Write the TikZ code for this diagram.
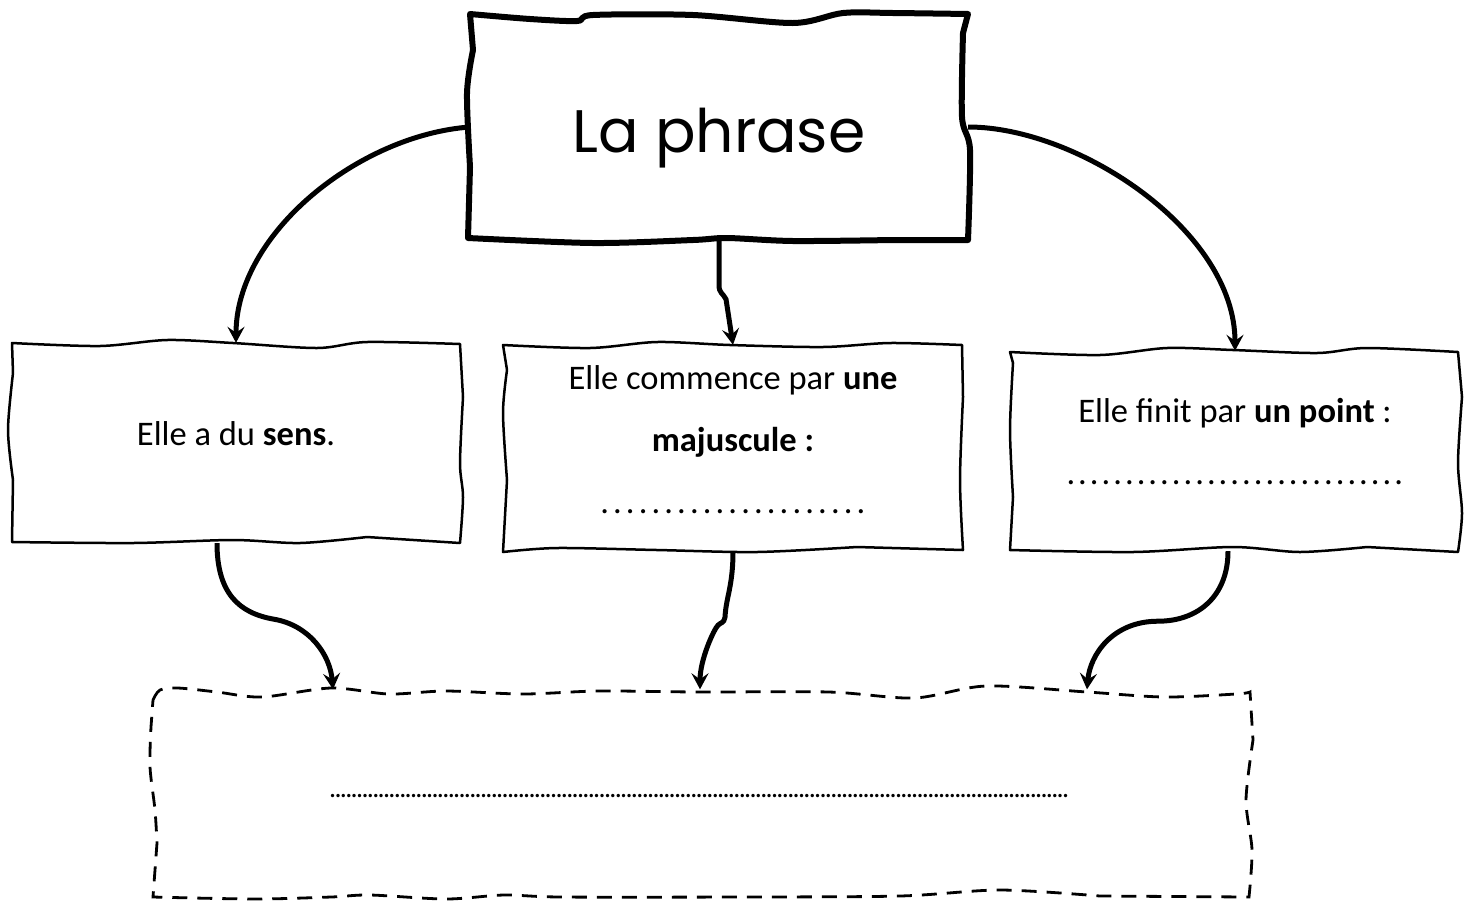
\documentclass[tikz,border=0pt]{standalone}
\usepackage{fontspec}
\setmainfont{Carlito}
\newfontfamily\titlefont{Poppins}
\usetikzlibrary{arrows.meta,positioning,calc}

\tikzset{
  boxnode/.style={rectangle, inner sep=0pt, font=\fontsize{34.5}{62}\selectfont},
  boxline/.style={line width=2.5pt, line join=round},
  titleline/.style={line width=6pt, line join=round},
  dashline/.style={line width=2.8pt, dash pattern=on 15pt off 10pt},
  fleche/.style={line width=5pt, -{Stealth[length=16pt,width=17pt,inset=6pt]}},
}
\newcommand{\pointille}[2]{\hbox to #1{\xleaders\hbox to #2{\hss.\hss}\hfill}}

\begin{document}
\begin{tikzpicture}[x=1pt,y=-1pt]
\useasboundingbox (0,0) rectangle (1471,903);

% les cases
\node[boxnode, minimum width=498, minimum height=226, text height=50pt, text depth=0pt,
  font=\titlefont\fontsize{60}{60}\selectfont] (titre) at (719,127) {La phrase};
\node[boxnode, minimum width=449, minimum height=200, text height=24pt, text depth=20pt] (sens) at (236,443)
  {Elle a du \textbf{sens}.};
\node[boxnode, minimum width=458, minimum height=206, text height=150pt, text depth=20pt] (maj) at (733,448)
  {\begin{tabular}[b]{@{}c@{}}Elle commence par \textbf{une}\\ \textbf{majuscule :}\\ \pointille{270pt}{12.3pt}\end{tabular}};
\node[boxnode, minimum width=448, minimum height=200, text height=87pt, text depth=21pt] (point) at (1235,451)
  {\begin{tabular}[b]{@{}c@{}}Elle finit par \textbf{un point} :\\ \pointille{340pt}{11.7pt}\end{tabular}};
\node[boxnode, minimum width=1100, minimum height=203, text height=12pt, text depth=0pt] (reponse) at (700,791)
  {\fontsize{28}{28}\selectfont\pointille{740pt}{5.4pt}};

% contours a main levee
\draw[titleline] plot[smooth] coordinates {(470,14) (530,19) (577,21) (593,15) (693,15) (793,23) (843,13) (893,13) (968,14)}
  -- plot[smooth] coordinates {(963,33) (962,117) (970,150) (968,240)}
  -- plot[smooth] coordinates {(893,240) (793,241) (727,238) (693,240) (593,243) (468,238)}
  -- plot[smooth] coordinates {(470,167) (467,93) (473,50)} -- cycle;
\draw[boxline] plot[smooth] coordinates {(12,343) (100,346) (167,340) (233,343) (317,348) (367,342) (460,344)}
  -- plot[smooth] coordinates {(463,397) (460,463) (463,497) (460,543)}
  -- plot[smooth] coordinates {(367,537) (300,543) (233,540) (133,543) (12,542)}
  -- plot[smooth] coordinates {(13,480) (8,430) (13,373)} -- cycle;
\draw[boxline] plot[smooth] coordinates {(503,345) (590,348) (657,342) (730,345) (823,347) (890,343) (962,345)}
  -- plot[smooth] coordinates {(963,397) (960,480) (963,550)}
  -- plot[smooth] coordinates {(857,547) (757,552) (657,550) (557,548) (503,552)}
  -- plot[smooth] coordinates {(507,480) (503,413) (507,370)} -- cycle;
\draw[boxline] plot[smooth] coordinates {(1010,352) (1100,355) (1167,348) (1233,350) (1317,353) (1367,348) (1458,352)}
  -- plot[smooth] coordinates {(1462,397) (1458,463) (1462,513) (1458,552)}
  -- plot[smooth] coordinates {(1367,547) (1300,552) (1233,547) (1133,552) (1010,550)}
  -- plot[smooth] coordinates {(1013,497) (1010,430) (1013,363)} -- cycle;
\draw[dashline] plot[smooth] coordinates {(153,700) (160,690) (178,688) (217,692) (262,697) (331,688) (389,694) (446,691) (523,694) (599,691) (699,692) (829,692) (914,698) (986,686) (1087,692) (1164,697) (1236,694) (1250,692)}
  -- plot[smooth] coordinates {(1253,740) (1246,800) (1252,850) (1249,897)}
  -- plot[smooth] coordinates {(1100,896) (1000,890) (900,896) (740,897) (561,897) (504,895) (446,899) (370,895) (331,897) (255,899) (153,897)}
  -- plot[smooth] coordinates {(157,843) (155,810) (150,767) (151,727)} -- cycle;

% fleches
\draw[fleche] (titre.west) .. controls +(-110,8) and +(0,-110) .. (sens.north);
\draw[fleche] (titre.south) -- ++(0,45) .. controls +(0,8) and +(-3,-6) .. ++(7,14) -- (maj.north);
\draw[fleche] (titre.east) .. controls +(110,0) and +(0,-120) .. (point.north);
\draw[fleche] ([xshift=-19pt]sens.south) .. controls +(0,50) and +(-35,-6) .. ++(57,76)
  .. controls +(35,6) and +(-3,-35) .. ([xshift=-367pt]reponse.north);
\draw[fleche] (maj.south) .. controls +(0,35) and +(1,-20) .. ++(-8,66)
  .. controls +(-1,6) and +(3,-3) .. ++(-7,8) .. controls +(-4,4) and +(0,-30) .. (reponse.north);
\draw[fleche] ([xshift=-7pt]point.south) .. controls +(0,45) and +(40,0) .. ++(-70,70)
  .. controls +(-45,0) and +(3,-35) .. ([xshift=387pt]reponse.north);
\end{tikzpicture}
\end{document}
